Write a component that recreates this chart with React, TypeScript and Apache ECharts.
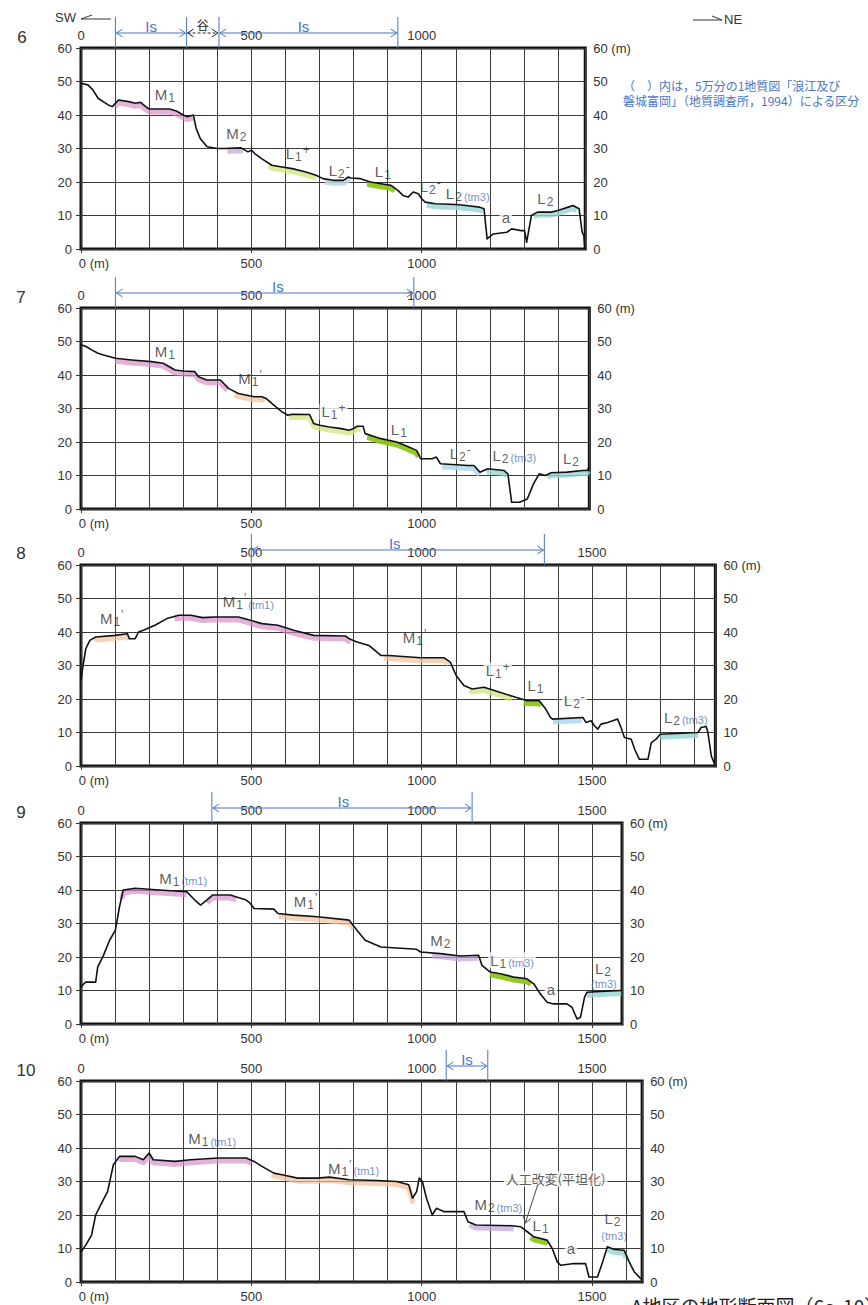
import React, { useEffect, useRef } from "react";
import * as echarts from "echarts";

const FONT = "'Liberation Sans', Arial, 'Noto Sans CJK JP', sans-serif";
const CJK = "'Noto Sans CJK JP', 'Liberation Sans', sans-serif";
const BLUE = "#4a74c4";
const TXT = "#333";

// ---------- profile data (distance m, elevation m) ----------
const dist6 = [0, 20, 35, 50, 65, 80, 92, 110, 140, 160, 175, 190, 200, 260, 280, 300, 312, 330, 338, 350, 370, 400, 420, 470, 490, 500, 510, 530, 560, 590, 620, 660, 690, 710, 740, 770, 785, 792, 820, 850, 880, 910, 930, 945, 960, 975, 990, 1000, 1010, 1040, 1100, 1130, 1170, 1183, 1192, 1210, 1250, 1264, 1290, 1302, 1308, 1322, 1340, 1380, 1400, 1430, 1444, 1462, 1471, 1476, 1479];
const elev6 = [49.5, 49, 47.5, 45, 44, 43, 42.5, 44.5, 44, 43.5, 43.8, 42.5, 41.8, 41.8, 41.2, 40, 39.5, 40, 36, 33, 30.5, 30, 30, 30.2, 29, 29.5, 28.5, 27, 25, 24.5, 24, 23, 22, 21, 20.5, 20.5, 21.5, 21.2, 21, 20, 19.5, 19, 17.5, 16, 15.5, 17, 16.5, 15, 14, 13.5, 13.3, 13, 12.5, 12, 3, 4.5, 5, 6, 5.5, 5.5, 2, 10, 11, 11, 11.5, 12.5, 13, 12, 5, 4, 0];

const dist7 = [0, 15, 31, 50, 66, 101, 148, 206, 241, 276, 300, 334, 345, 369, 409, 433, 462, 508, 531, 543, 566, 590, 607, 619, 671, 683, 700, 729, 764, 787, 800, 810, 828, 834, 880, 927, 962, 985, 997, 1031, 1043, 1055, 1136, 1153, 1171, 1194, 1241, 1253, 1264, 1287, 1310, 1328, 1345, 1363, 1380, 1427, 1473, 1485, 1492];
const elev7 = [49, 48.5, 47.5, 46.5, 46, 45, 44.5, 44, 43.5, 41.5, 41.2, 41, 39.5, 38.5, 38.5, 36, 34.5, 33.5, 33.5, 33, 31, 29, 28, 28.3, 28.2, 25.5, 25, 24.5, 24, 23.5, 24, 24.7, 24.7, 22.5, 21, 20, 18.5, 17.5, 15, 15, 15.5, 13.5, 13, 13, 11, 12, 11.5, 10.5, 2, 2, 3, 7.5, 10.5, 10, 10.8, 11, 11.5, 11.5, 12.5];

const dist8 = [0, 6, 14, 26, 43, 100, 136, 142, 159, 169, 183, 217, 252, 287, 322, 357, 392, 462, 497, 531, 578, 624, 683, 776, 787, 810, 845, 880, 903, 997, 1066, 1084, 1101, 1124, 1148, 1183, 1229, 1276, 1310, 1345, 1364, 1378, 1384, 1473, 1482, 1497, 1507, 1517, 1526, 1546, 1575, 1585, 1595, 1615, 1625, 1639, 1664, 1674, 1688, 1700, 1811, 1820, 1835, 1840, 1850, 1860];
const elev8 = [25.5, 30, 35, 37.5, 38.5, 39, 39.5, 38, 38, 40, 40.5, 42, 44, 45, 45, 44.3, 44.5, 44.5, 43.5, 42.5, 42, 40.5, 39, 38.8, 38, 37, 36, 33, 33, 32.3, 32.3, 31, 27, 24, 23, 23.5, 22, 20.5, 19.5, 19.5, 17, 14.5, 14, 14.5, 13, 13.5, 12, 11, 12.5, 13, 14, 11.5, 8.5, 8, 5, 2, 2, 7, 8, 9.5, 10, 11.5, 11.8, 10, 3, 0.5];

const dist9 = [0, 8, 14, 43, 49, 66, 84, 101, 113, 124, 159, 229, 310, 334, 351, 369, 386, 438, 485, 497, 508, 566, 578, 624, 694, 787, 810, 834, 880, 927, 985, 997, 1055, 1113, 1167, 1177, 1201, 1231, 1270, 1309, 1329, 1348, 1368, 1387, 1426, 1441, 1456, 1466, 1478, 1485, 1540, 1588];
const elev9 = [11, 12, 12.5, 12.5, 17, 20.5, 25, 28, 35, 40, 40.5, 40, 39.5, 37, 35.5, 37, 38.5, 38.5, 37, 36, 34.5, 34.3, 33, 32.5, 32, 31, 28, 25, 23, 22.7, 22.3, 21.5, 21, 20.3, 20.5, 17.5, 15.5, 15, 14, 13.5, 12, 9, 6.5, 6, 6, 5, 1.5, 2, 8, 9.5, 9.8, 10];

const dist10 = [0, 14, 31, 43, 60, 78, 95, 113, 159, 183, 200, 212, 276, 322, 403, 485, 508, 531, 566, 590, 636, 694, 729, 787, 869, 927, 962, 973, 985, 993, 1002, 1014, 1031, 1043, 1066, 1124, 1136, 1159, 1264, 1290, 1310, 1329, 1368, 1383, 1398, 1408, 1447, 1481, 1491, 1516, 1531, 1545, 1565, 1594, 1609, 1624, 1643, 1647];
const elev10 = [9, 11, 14, 20, 23.5, 27, 35, 37.5, 37.5, 36.5, 38.5, 36.5, 36, 36.5, 37, 37, 36, 34.5, 32.5, 32, 31, 31, 31.3, 30.5, 30.3, 30, 29, 25, 27, 31, 30, 25, 20, 22, 21, 21, 18, 17, 16.8, 16.5, 15, 13.5, 12.5, 10, 6, 5, 5.5, 5.5, 1.5, 1.5, 6, 10.5, 9.7, 9.5, 6, 3, 1, 0.8];

// ---------- terrace highlights [from m, to m, class] ----------
const terraces6 = [[100, 330, "M1"], [430, 475, "M2"], [550, 690, "L1p"], [715, 790, "L2m"], [840, 920, "L1"], [1015, 1180, "L2"], [1330, 1455, "L2"]];
const terraces7 = [[100, 430, "M1"], [450, 540, "M1p"], [610, 820, "L1p"], [840, 990, "L1"], [1060, 1170, "L2m"], [1190, 1250, "L2"], [1370, 1490, "L2"]];
const terraces8 = [[40, 140, "M1p"], [275, 790, "M1"], [890, 1080, "M1p"], [1140, 1265, "L1p"], [1300, 1350, "L1"], [1385, 1470, "L2m"], [1700, 1812, "L2"]];
const terraces9 = [[120, 310, "M1"], [370, 455, "M1"], [580, 800, "M1p"], [1030, 1165, "M2"], [1200, 1320, "L1"], [1485, 1586, "L2"]];
const terraces10 = [[110, 500, "M1"], [560, 975, "M1p"], [1140, 1270, "M2"], [1320, 1370, "L1"], [1545, 1600, "L2"]];

// ---------- labels [x m, y m, base, sub, sup, note, white background, style] ----------
const labels6 = [[246, 46, "M", "1", "", "", 0], [456, 34.5, "M", "2", "", "", 0], [636, 28.5, "L", "1", "+", "", 0], [758, 23.5, "L", "2", "-", "", 0], [886, 23, "L", "1", "", "", 0], [1025, 18.8, "L", "2", "-", "", 0], [1135, 16.5, "L", "2", "", "(tm3)", 0], [1247, 9.5, "a", "", "", "", 1], [1363, 15, "L", "2", "", "", 0]];
const labels7 = [[246, 47, "M", "1", "", "", 0], [496, 39, "M", "1", "'", "", 0], [741, 29, "L", "1", "+", "", 1], [933, 23.7, "L", "1", "", "", 0], [1113, 16.7, "L", "2", "-", "", 0], [1272, 16, "L", "2", "", "(tm3)", 0], [1438, 15.2, "L", "2", "", "", 0]];
const labels8 = [[90, 44, "M", "1", "'", "", 0], [491, 49, "M", "1", "'", "(tm1)", 0], [979, 38.5, "M", "1", "'", "", 0], [1223, 28.5, "L", "1", "+", "", 1], [1334, 24, "L", "1", "", "", 0], [1448, 19.5, "L", "2", "-", "", 1], [1775, 14.5, "L", "2", "", "(tm3)", 0]];
const labels9 = [[300, 43.5, "M", "1", "", "(tm1)", 0], [659, 36.6, "M", "1", "'", "", 0], [1055, 25, "M", "2", "", "", 0], [1265, 19, "L", "1", "", "(tm3)", 1], [1379, 10.4, "a", "", "", "", 1], [1532, 16.7, "L", "2", "", "", 0], [1532, 12.7, "", "", "", "(tm3)", 0]];
const labels10 = [[385, 42.8, "M", "1", "", "(tm1)", 0], [800, 34, "M", "1", "'", "(tm1)", 0], [1393, 30.8, "人工改変(平坦化)", "", "", "", 1], [1225, 23, "M", "2", "", "(tm3)", 0], [1349, 17, "L", "1", "", "", 0], [1438, 10, "a", "", "", "", 1], [1560, 19, "L", "2", "", "", 0], [1562, 14.5, "", "", "", "(tm3)", 0]];

// ---------- "Is" spans above each panel [from m, to m, text, text x m] ----------
const spans6 = [[101, 310, "Is", 206], [310, 405, "谷", 357], [405, 930, "Is", 653]];
const spans7 = [[101, 977, "Is", 578]];
const spans8 = [[500, 1360, "Is", 921]];
const spans9 = [[384, 1148, "Is", 770]];
const spans10 = [[1072, 1194, "Is", 1133]];

// leader for 人工改変 in panel 10 [from, to]
const leader10 = [[1340, 28.8], [1304, 17.6]];

const PANEL_NAMES = ["6", "7", "8", "9", "10"];
const PANEL_MAX = [1480, 1492, 1862, 1588, 1647];
const X_LABELS = [[0, 500, 1000], [0, 500, 1000], [0, 500, 1000, 1500], [0, 500, 1000, 1500], [0, 500, 1000, 1500]];
const Y_TICKS = [0, 10, 20, 30, 40, 50, 60];

const DIST = [dist6, dist7, dist8, dist9, dist10];
const ELEV = [elev6, elev7, elev8, elev9, elev10];
const TERRACES = [terraces6, terraces7, terraces8, terraces9, terraces10];
const LABELS = [labels6, labels7, labels8, labels9, labels10];
const SPANS = [spans6, spans7, spans8, spans9, spans10];

// layout
const GRID_TOP = [48, 308, 565, 823, 1081];
const GRID_LEFT = 81;
const GRID_H = 201;
const PX_PER_M = 0.3407;
const NUM_POS = [[22, 37], [21, 297], [21, 553], [21, 812], [26, 1070]];

const TERRACE_COLOR: Record<string, string> = {
  M1: "rgba(214,135,195,0.65)",
  M1p: "rgba(240,192,155,0.7)",
  M2: "rgba(192,162,218,0.7)",
  L1p: "rgba(208,230,125,0.75)",
  L1: "rgba(135,196,15,0.9)",
  L2m: "rgba(176,216,236,0.85)",
  L2: "rgba(150,212,212,0.8)",
};

function elevAt(d: number[], e: number[], x: number) {
  for (let k = 0; k < d.length - 1; k++) {
    if (x >= d[k] && x <= d[k + 1]) {
      const t = (x - d[k]) / (d[k + 1] - d[k] || 1);
      return e[k] + t * (e[k + 1] - e[k]);
    }
  }
  return e[e.length - 1];
}

function segment(d: number[], e: number[], a: number, b: number, off: number) {
  const pts: number[][] = [[a, elevAt(d, e, a) - off]];
  d.forEach((x, k) => {
    if (x > a && x < b) pts.push([x, e[k] - off]);
  });
  pts.push([b, elevAt(d, e, b) - off]);
  return pts;
}

function richLabel(base: string, sub: string, sup: string, note: string, cjk: boolean) {
  let s = "";
  if (base) s += cjk ? `{j|${base}}` : `{b|${base}}`;
  if (sub) s += `{s|${sub}}`;
  if (sup) s += `{p|${sup}}`;
  if (note) s += `{t|${note}}`;
  return s;
}

const RICH = {
  b: { fontSize: 15, fontFamily: FONT, color: TXT, lineHeight: 16 },
  j: { fontSize: 13, fontFamily: CJK, color: TXT, lineHeight: 16 },
  s: { fontSize: 12, fontFamily: FONT, color: TXT, lineHeight: 12, padding: [7, 0, 0, 1] },
  p: { fontSize: 12, fontFamily: FONT, color: TXT, lineHeight: 12, padding: [0, 0, 7, 1] },
  t: { fontSize: 11, fontFamily: FONT, color: BLUE, lineHeight: 12, padding: [6, 0, 0, 2] },
};

function buildOption() {
  const grid: any[] = [];
  const xAxis: any[] = [];
  const yAxis: any[] = [];
  const series: any[] = [];

  PANEL_MAX.forEach((max, i) => {
    grid.push({
      left: GRID_LEFT,
      top: GRID_TOP[i],
      width: max * PX_PER_M,
      height: GRID_H,
      show: true,
      borderColor: "#111",
      borderWidth: 3,
      backgroundColor: "transparent",
    });
    const labelBase = { fontSize: 13, color: TXT, fontFamily: FONT };
    // bottom labels
    xAxis.push({
      gridIndex: i, type: "value", min: 0, max, interval: 500, position: "bottom",
      axisLine: { show: false },
      axisTick: { show: true, length: 4, customValues: X_LABELS[i], lineStyle: { color: TXT } },
      axisLabel: {
        ...labelBase, margin: 8, customValues: X_LABELS[i],
        formatter: (v: number) => (v === 0 ? "{z|0 (m)}" : String(v)),
        rich: { z: { ...labelBase, padding: [0, 0, 0, 26] } },
      },
      splitLine: { show: false },
    });
    // top labels
    xAxis.push({
      gridIndex: i, type: "value", min: 0, max, interval: 500, position: "top",
      axisLine: { show: false },
      axisTick: { show: true, length: 4, customValues: X_LABELS[i], lineStyle: { color: TXT } },
      axisLabel: { ...labelBase, margin: 6, customValues: X_LABELS[i], formatter: (v: number) => String(v) },
      splitLine: { show: false },
    });
    // grid lines every 100 m
    xAxis.push({
      gridIndex: i, type: "value", min: 0, max, interval: 100, position: "bottom",
      axisLine: { show: false }, axisTick: { show: false }, axisLabel: { show: false },
      splitLine: { show: true, lineStyle: { color: "#3c3c3c", width: 1 } },
    });
    yAxis.push({
      gridIndex: i, type: "value", min: 0, max: 60, interval: 10, position: "left",
      axisLine: { show: false },
      axisTick: { show: true, length: 5, customValues: Y_TICKS, lineStyle: { color: TXT } },
      axisLabel: { ...labelBase, margin: 9, customValues: Y_TICKS },
      splitLine: { show: true, lineStyle: { color: "#3c3c3c", width: 1 } },
    });
    yAxis.push({
      gridIndex: i, type: "value", min: 0, max: 60, interval: 10, position: "right",
      axisLine: { show: false },
      axisTick: { show: true, length: 5, customValues: Y_TICKS, lineStyle: { color: TXT } },
      axisLabel: { ...labelBase, margin: 8, customValues: Y_TICKS, formatter: (v: number) => (v === 60 ? "60 (m)" : String(v)) },
      splitLine: { show: false },
    });

    const xi = i * 3 + 2;
    const yi = i * 2;
    const d = DIST[i];
    const e = ELEV[i];

    TERRACES[i].forEach((t: any) => {
      series.push({
        type: "line", xAxisIndex: xi, yAxisIndex: yi, silent: true,
        showSymbol: false, symbol: "none", z: 2,
        lineStyle: { color: TERRACE_COLOR[t[2]], width: 5, cap: "butt", join: "round" },
        data: segment(d, e, t[0], t[1], 0.9),
      });
    });

    series.push({
      type: "line", xAxisIndex: xi, yAxisIndex: yi, silent: true,
      showSymbol: false, symbol: "none", z: 3,
      lineStyle: { color: "#111", width: 1.6, join: "round" },
      data: d.map((x, k) => [x, e[k]]),
    });

    const labs = LABELS[i];
    series.push({
      type: "scatter", xAxisIndex: xi, yAxisIndex: yi, silent: true, z: 5,
      symbolSize: 1, itemStyle: { color: "transparent" },
      data: labs.map((l: any) => ({
        value: [l[0], l[1]],
        label: l[6] ? { backgroundColor: "#fff", padding: [0, 2, 0, 2] } : {},
      })),
      label: {
        show: true, position: "inside",
        formatter: (p: any) => {
          const l: any = labs[p.dataIndex];
          return richLabel(l[2], l[3], l[4], l[5], /[^\x00-\x7f]/.test(l[2]));
        },
        rich: RICH,
      },
    });
  });

  return {
    animation: false,
    backgroundColor: "#fff",
    grid, xAxis, yAxis, series,
  };
}

function chevron(x: number, y: number, dx: number, dy: number, size: number, color: string) {
  // open arrowhead with tip at (x,y) pointing in direction (dx,dy)
  const len = Math.hypot(dx, dy) || 1;
  const ux = dx / len, uy = dy / len;
  const px = -uy, py = ux;
  const bx = x - ux * size, by = y - uy * size;
  return {
    type: "polyline", silent: true, z: 10,
    shape: { points: [[bx + px * size * 0.65, by + py * size * 0.65], [x, y], [bx - px * size * 0.65, by - py * size * 0.65]] },
    style: { stroke: color, lineWidth: 1, fill: "none" },
  };
}

function textEl(text: string, x: number, y: number, size: number, color: string, align: string, family: string, vAlign = "middle") {
  return {
    type: "text", x, y, silent: true, z: 10,
    style: {
      text, fill: color, fontSize: size, fontFamily: family,
      textAlign: align, textVerticalAlign: vAlign, align, verticalAlign: vAlign,
    },
  };
}

function buildGraphics(chart: any) {
  const els: any[] = [];
  SPANS.forEach((spans: any[], i) => {
    const top = GRID_TOP[i];
    const px = (v: number) => chart.convertToPixel({ xAxisIndex: i * 3 }, v) as number;
    spans.forEach((s: any) => {
      const xa = px(s[0]);
      const xb = px(s[1]);
      const valley = s[2] === "谷";
      const color = valley ? "#222" : BLUE;
      const y = top - 15;
      if (!valley) {
        [xa, xb].forEach((x) => {
          els.push({ type: "line", silent: true, z: 10, shape: { x1: x, y1: top - 31, x2: x, y2: top }, style: { stroke: BLUE, lineWidth: 1 } });
        });
      }
      els.push({
        type: "line", silent: true, z: 10,
        shape: { x1: xa + 1, y1: y, x2: xb - 1, y2: y },
        style: { stroke: color, lineWidth: 1, lineDash: valley ? [3, 2] : null },
      });
      els.push(chevron(xa + 1, y, -1, 0, 6, color));
      els.push(chevron(xb - 1, y, 1, 0, 6, color));
      if (valley) {
        els.push(textEl(s[2], px(s[3]), top - 24, 12, "#222", "center", CJK));
      } else {
        els.push(textEl(s[2], px(s[3]), top - 22, 15, BLUE, "center", FONT));
      }
    });
  });

  // leader for 人工改変 (panel 10)
  const p0 = chart.convertToPixel({ xAxisIndex: 12, yAxisIndex: 8 }, leader10[0]);
  const p1 = chart.convertToPixel({ xAxisIndex: 12, yAxisIndex: 8 }, leader10[1]);
  els.push({ type: "line", silent: true, z: 10, shape: { x1: p0[0], y1: p0[1], x2: p1[0], y2: p1[1] }, style: { stroke: "#444", lineWidth: 1 } });
  els.push(chevron(p1[0], p1[1], p1[0] - p0[0], p1[1] - p0[1], 6, "#444"));

  // panel numbers
  PANEL_NAMES.forEach((n, i) => {
    els.push(textEl(n, NUM_POS[i][0], NUM_POS[i][1], 17, TXT, "center", FONT));
  });

  // direction arrows
  els.push(textEl("SW", 55, 17, 13, TXT, "left", FONT));
  els.push({ type: "polyline", silent: true, z: 10, shape: { points: [[111, 19], [81, 19], [92, 15]] }, style: { stroke: TXT, lineWidth: 1, fill: "none" } });
  els.push({ type: "polyline", silent: true, z: 10, shape: { points: [[693, 20], [722, 20], [712, 16]] }, style: { stroke: TXT, lineWidth: 1, fill: "none" } });
  els.push(textEl("NE", 724, 19, 13, TXT, "left", FONT));

  // note
  els.push(textEl("（　）内は，5万分の1地質図「浪江及び", 623, 85, 12, BLUE, "left", CJK));
  els.push(textEl("磐城富岡」（地質調査所，1994）による区分", 623, 100, 12, BLUE, "left", CJK));

  // caption (partly cut at page bottom)
  els.push(textEl("A地区の地形断面図（6～10）", 631, 1296, 19, "#222", "left", CJK, "top"));
  return els;
}

export default function App() {
  const ref = useRef<HTMLDivElement>(null);
  useEffect(() => {
    document.body.style.margin = "0";
    const chart = echarts.init(ref.current!, null, { renderer: "svg" });
    chart.setOption(buildOption() as any);
    chart.setOption({ graphic: buildGraphics(chart) } as any);
    return () => chart.dispose();
  }, []);
  return <div ref={ref} style={{ width: 868, height: 1305, background: "#fff" }} />;
}
